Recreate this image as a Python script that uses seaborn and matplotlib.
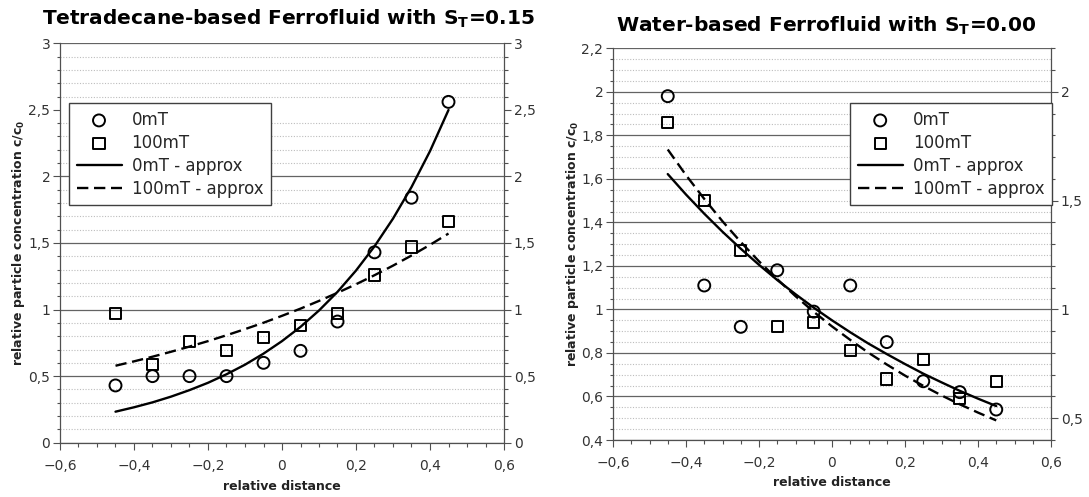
import matplotlib
matplotlib.use("Agg")
import matplotlib.pyplot as plt
import seaborn as sns
import numpy as np
from matplotlib.ticker import MultipleLocator, FuncFormatter

# ---------------- data ----------------
x_pos = [-0.45, -0.35, -0.25, -0.15, -0.05, 0.05, 0.15, 0.25, 0.35, 0.45]
tet_0mT = [0.43, 0.50, 0.50, 0.50, 0.60, 0.69, 0.91, 1.43, 1.84, 2.56]
tet_100mT = [0.97, 0.59, 0.76, 0.69, 0.79, 0.88, 0.97, 1.26, 1.47, 1.66]
wat_0mT = [1.98, 1.11, 0.92, 1.18, 0.99, 1.11, 0.85, 0.67, 0.62, 0.54]
wat_100mT = [1.86, 1.50, 1.27, 0.92, 0.94, 0.81, 0.68, 0.77, 0.59, 0.67]

x_fit = [-0.45, -0.40, -0.35, -0.30, -0.25, -0.20, -0.15, -0.10, -0.05, 0.00,
         0.05, 0.10, 0.15, 0.20, 0.25, 0.30, 0.35, 0.40, 0.45]
tet_0mT_fit = [0.233, 0.266, 0.303, 0.346, 0.395, 0.450, 0.514, 0.586, 0.669, 0.763,
               0.870, 0.993, 1.133, 1.293, 1.475, 1.683, 1.920, 2.190, 2.499]
tet_100mT_fit = [0.578, 0.611, 0.646, 0.683, 0.722, 0.763, 0.807, 0.853, 0.901, 0.953,
                 1.007, 1.065, 1.126, 1.190, 1.258, 1.330, 1.406, 1.486, 1.571]
wat_0mT_fit = [1.622, 1.528, 1.440, 1.357, 1.279, 1.205, 1.135, 1.070, 1.008, 0.950,
               0.895, 0.843, 0.795, 0.749, 0.705, 0.665, 0.626, 0.590, 0.556]
wat_100mT_fit = [1.735, 1.617, 1.508, 1.405, 1.310, 1.221, 1.139, 1.061, 0.989, 0.922,
                 0.860, 0.801, 0.747, 0.696, 0.649, 0.605, 0.564, 0.526, 0.490]

titles = ["Tetradecane-based Ferrofluid with S$_\\mathbf{T}$=0.15",
          "Water-based Ferrofluid with S$_\\mathbf{T}$=0.00"]
xlabel = "relative distance"
ylabel = "relative particle concentration c/c$_\\mathbf{0}$"
labels = ["0mT", "100mT", "0mT - approx", "100mT - approx"]

# ---------------- style ----------------
sns.set_theme(style="white")
plt.rcParams['font.family'] = ['DejaVu Sans']
plt.rcParams['axes.unicode_minus'] = True

W, H = 1089, 497
fig = plt.figure(figsize=(W / 100, H / 100), dpi=100)

TICKC = '#333333'
SPINEC = '#505050'


def fmt(v, pos=None):
    v = round(v, 3)
    s = f"{v:g}".replace('.', ',')
    return s.replace('-', '\u2212')


def px_axes(l, r, t, b):
    return [l / W, 1 - b / H, (r - l) / W, (b - t) / H]


panels = [
    dict(rect=px_axes(60, 504, 43.3, 442.7), ylim=(0, 3), ymaj=0.5, ymin=0.1,
         r_maj=0.5, r_min=0.1, r_ticks=[0, 0.5, 1, 1.5, 2, 2.5, 3],
         d0=tet_0mT, d1=tet_100mT, f0=tet_0mT_fit, f1=tet_100mT_fit,
         leg=(69, 103.3), title_xy=(289, 25), xlab_y=486, ylab_x=18.3),
    dict(rect=px_axes(613, 1051, 48.3, 440), ylim=(0.4, 2.2), ymaj=0.2, ymin=0.05,
         r_maj=0.5, r_min=0.1, r_ticks=[0.5, 1, 1.5, 2],
         d0=wat_0mT, d1=wat_100mT, f0=wat_0mT_fit, f1=wat_100mT_fit,
         leg=(850.2, 103.3), title_xy=(826, 31.5), xlab_y=483, ylab_x=572.5),
]

for i, p in enumerate(panels):
    ax = fig.add_axes(p['rect'])
    ax.set_xlim(-0.6, 0.6)
    ax.set_ylim(*p['ylim'])

    sns.lineplot(x=x_fit, y=p['f0'], ax=ax, color='black', lw=1.7,
                 label=labels[2], zorder=4)
    sns.lineplot(x=x_fit, y=p['f1'], ax=ax, color='black', lw=1.7,
                 linestyle=(0, (4.8, 2.4)), label=labels[3], zorder=4)
    sns.scatterplot(x=x_pos, y=p['d0'], ax=ax, marker='o', s=74,
                    facecolor='none', edgecolor='black', linewidth=1.4,
                    label=labels[0], zorder=5)
    sns.scatterplot(x=x_pos, y=p['d1'], ax=ax, marker='s', s=66,
                    facecolor='none', edgecolor='black', linewidth=1.4,
                    label=labels[1], zorder=5)

    # axes ticks
    ax.xaxis.set_major_locator(MultipleLocator(0.2))
    ax.xaxis.set_minor_locator(MultipleLocator(0.05))
    ax.yaxis.set_major_locator(MultipleLocator(p['ymaj']))
    ax.yaxis.set_minor_locator(MultipleLocator(p['ymin']))
    ax.xaxis.set_major_formatter(FuncFormatter(fmt))
    ax.yaxis.set_major_formatter(FuncFormatter(fmt))
    ax.tick_params(axis='x', which='major', direction='out', length=5, width=0.8,
                   color=SPINEC, labelcolor=TICKC, labelsize=10, pad=6.5, bottom=True)
    ax.tick_params(axis='x', which='minor', direction='out', length=3, width=0.8,
                   color=SPINEC, bottom=True)
    ax.tick_params(axis='y', which='major', direction='out', length=5, width=0.8,
                   color=SPINEC, labelcolor=TICKC, labelsize=10, pad=2, left=True)
    ax.tick_params(axis='y', which='minor', direction='out', length=2, width=0.8,
                   color=SPINEC, left=True)

    # grid
    ax.grid(False)
    ax.yaxis.grid(True, which='major', color='#636363', lw=0.9, ls='-')
    ax.yaxis.grid(True, which='minor', color='#bdbdbd', lw=0.8, ls=(0, (1, 1.5)))
    ax.set_axisbelow(True)
    ymax = p['ylim'][1]
    for t in ax.yaxis.get_major_ticks() + ax.yaxis.get_minor_ticks():
        if np.isclose(t.get_loc(), ymax):
            t.gridline.set_visible(False)

    for s in ['top', 'right']:
        ax.spines[s].set_visible(False)
    for s in ['left', 'bottom']:
        ax.spines[s].set_color(SPINEC)
        ax.spines[s].set_linewidth(0.9)

    ax.set_xlabel('')
    ax.set_ylabel('')
    if ax.get_legend() is not None:
        ax.get_legend().remove()

    # secondary axis on the right
    ax2 = ax.twinx()
    ax2.set_ylim(*p['ylim'])
    ax2.set_yticks(p['r_ticks'])
    ax2.yaxis.set_minor_locator(MultipleLocator(p['r_min']))
    ax2.yaxis.set_major_formatter(FuncFormatter(fmt))
    ax2.tick_params(axis='y', which='major', direction='out', length=5, width=0.8,
                    color=SPINEC, labelcolor=TICKC, labelsize=10, pad=2, right=True)
    ax2.tick_params(axis='y', which='minor', direction='out', length=3, width=0.8,
                    color=SPINEC, right=True)
    ax2.grid(False)
    for s in ['top', 'left', 'bottom']:
        ax2.spines[s].set_visible(False)
    ax2.spines['right'].set_color(SPINEC)
    ax2.spines['right'].set_linewidth(0.9)

    # legend
    h, l = ax.get_legend_handles_labels()
    hd = dict(zip(l, h))
    lx, ly = p['leg']
    l0, b0, w0, h0 = p['rect']
    anchor = ((lx / W - l0) / w0, ((1 - ly / H) - b0) / h0)
    leg = ax2.legend([hd[k] for k in labels], labels, loc='upper left',
                     bbox_to_anchor=anchor, borderaxespad=0, fontsize=12,
                     frameon=True, fancybox=False, framealpha=1,
                     edgecolor='#404040', borderpad=0.45, labelspacing=0.3,
                     handlelength=2.7, handletextpad=0.6, scatterpoints=1)
    leg.get_frame().set_linewidth(1.0)

    # titles and labels
    tx, ty = p['title_xy']
    fig.text(tx / W, 1 - ty / H, titles[i], ha='center', va='baseline',
             fontsize=14.5, fontweight='bold', color='black')
    fig.text((l0 + w0 / 2), 1 - p['xlab_y'] / H, xlabel, ha='center', va='center',
             fontsize=9, fontweight='bold', color='#222222')
    fig.text(p['ylab_x'] / W, b0 + h0 / 2, ylabel, ha='center', va='center',
             rotation=90, fontsize=9, fontweight='bold', color='#222222')

fig.savefig('out.png', dpi=100)
